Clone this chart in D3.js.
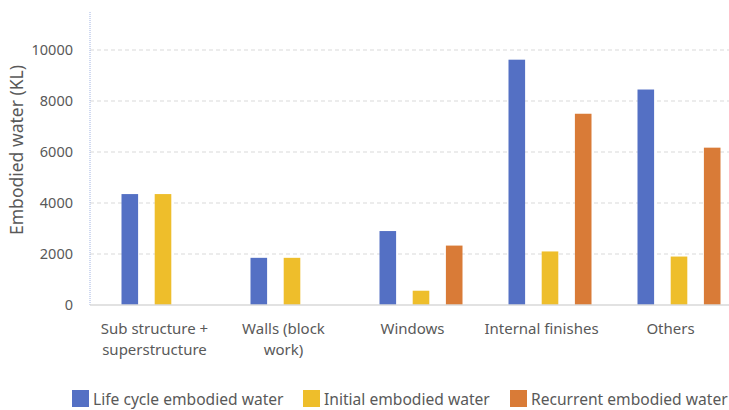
<!DOCTYPE html>
<html>
<head>
<meta charset="utf-8">
<script src="https://cdn.jsdelivr.net/npm/d3@7"></script>
<style>
  body { margin: 0; background: #fff; }
  #chart { width: 729px; height: 410px; }
  text { font-family: "Noto Sans", sans-serif; fill: #595959; }
</style>
</head>
<body>
<div id="chart"></div>
<script>
// data
const categories = [["Sub structure +", "superstructure"], ["Walls (block", "work)"], ["Windows"], ["Internal finishes"], ["Others"]];
const seriesNames = ["Life cycle embodied water", "Initial embodied water", "Recurrent embodied water"];
const lifeCycle = [4350, 1850, 2900, 9620, 8450];
const initial = [4350, 1850, 560, 2100, 1900];
const recurrent = [0, 0, 2330, 7500, 6170];
const yTicks = [0, 2000, 4000, 6000, 8000, 10000];
const colors = ["#5470C4", "#EEBE2B", "#D97B37"];

const width = 729, height = 410;
const margin = {top: 12, left: 90, right: -6, bottom: 105};

const svg = d3.select("#chart").append("svg")
    .attr("width", width)
    .attr("height", height);

const keys = categories.map(c => c.join(" "));
const values = [lifeCycle, initial, recurrent];

/* scales */
const xScale = d3.scaleBand()
    .domain(keys)
    .range([margin.left, width - margin.right]);

// bars sit a bit right of the category centre in the original
const xInner = d3.scaleBand()
    .domain(seriesNames)
    .range([-33, 50])
    .paddingInner(0.5);

const yScale = d3.scaleLinear()
    .domain([0, 10000])
    .range([height - margin.bottom, 50]);

/* grid */
svg.append("g")
    .selectAll("line")
    .data(yTicks.filter(d => d > 0))
    .enter()
    .append("line")
    .attr("x1", margin.left)
    .attr("x2", width)
    .attr("y1", d => yScale(d))
    .attr("y2", d => yScale(d))
    .attr("stroke", "#d9d9d9")
    .attr("stroke-dasharray", "4,3");

/* y axis */
const yAxis = svg.append("g")
    .attr("transform", `translate(${margin.left},0)`)
    .call(d3.axisLeft(yScale).tickValues(yTicks).tickSize(0).tickPadding(17).tickFormat(d3.format("d")));
yAxis.select(".domain").remove();
yAxis.selectAll("text")
    .style("font-size", "14.5px")
    .attr("fill", "#595959");

svg.append("line")
    .attr("x1", margin.left).attr("x2", margin.left)
    .attr("y1", margin.top).attr("y2", yScale(0))
    .attr("stroke", "#9fb2e2")
    .attr("stroke-dasharray", "1,1");

/* bars */
seriesNames.forEach(function(s, i) {
    svg.append("g")
        .selectAll("rect")
        .data(keys.map((k, j) => ({key: k, v: values[i][j]})).filter(d => d.v > 0))
        .enter()
        .append("rect")
        .attr("x", d => xScale(d.key) + xScale.bandwidth() / 2 + xInner(s))
        .attr("width", xInner.bandwidth())
        .attr("y", d => yScale(d.v))
        .attr("height", d => yScale(0) - yScale(d.v))
        .attr("fill", colors[i]);
});

/* x axis line */
svg.append("line")
    .attr("x1", margin.left).attr("x2", width)
    .attr("y1", yScale(0)).attr("y2", yScale(0))
    .attr("stroke", "#d9d9d9")
    .attr("stroke-width", 1.5);

/* category labels */
categories.forEach(function(lines, j) {
    const t = svg.append("text")
        .attr("text-anchor", "middle")
        .attr("x", xScale(keys[j]) + xScale.bandwidth() / 2)
        .attr("y", 334)
        .style("font-size", "15px");
    lines.forEach(function(line, k) {
        t.append("tspan")
            .attr("x", xScale(keys[j]) + xScale.bandwidth() / 2)
            .attr("dy", k === 0 ? 0 : 21)
            .text(line);
    });
});

/* y axis title */
svg.append("text")
    .attr("transform", "rotate(-90)")
    .attr("x", -150)
    .attr("y", 23)
    .attr("text-anchor", "middle")
    .style("font-size", "17.5px")
    .text("Embodied water (KL)");

/* legend */
const legendX = [72, 303, 510];
seriesNames.forEach(function(s, i) {
    svg.append("rect")
        .attr("x", legendX[i])
        .attr("y", 390)
        .attr("width", 17)
        .attr("height", 17)
        .attr("fill", colors[i]);
    svg.append("text")
        .attr("x", legendX[i] + 21)
        .attr("y", 405)
        .style("font-size", "15.6px")
        .text(s);
});
</script>
</body>
</html>
